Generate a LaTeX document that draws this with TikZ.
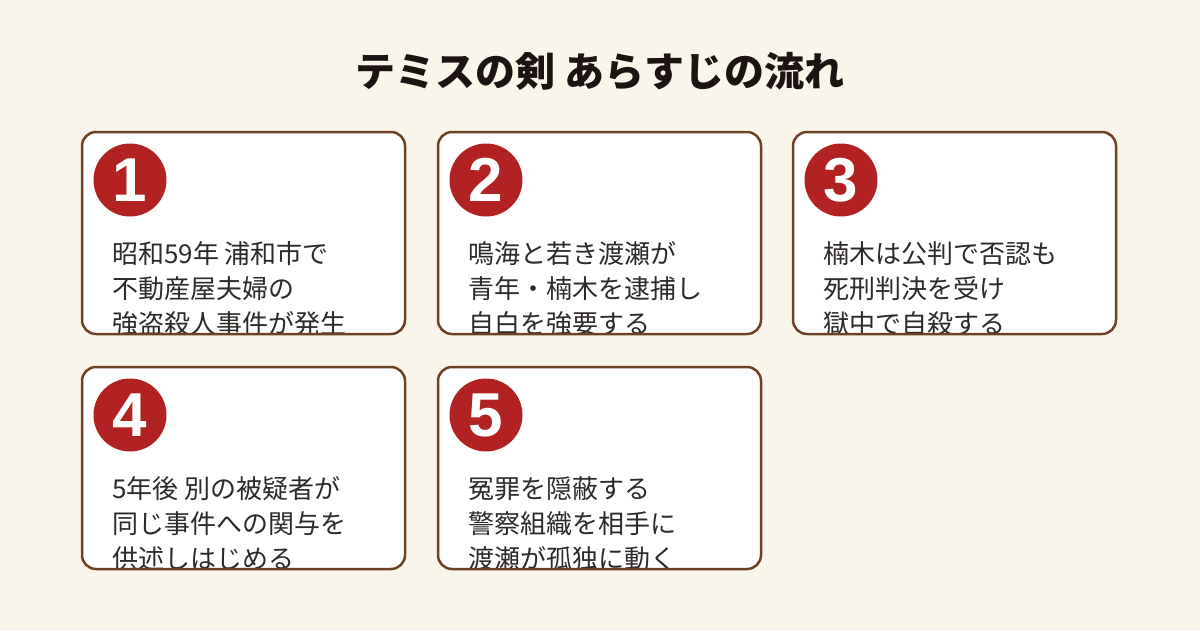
\documentclass[tikz,border=0pt]{standalone}
\usepackage{fontspec}
\newfontfamily\jp{Noto Sans CJK JP}
\newfontfamily\numfont{Liberation Sans}
\definecolor{bgc}{HTML}{FAF5EA}
\definecolor{brd}{HTML}{6B4226}
\definecolor{redc}{HTML}{B22222}
\definecolor{txt}{HTML}{2E2A28}
\definecolor{ttl}{HTML}{1C1412}
\tikzset{
  cardborder/.style={draw=brd, line width=2.5pt, rounded corners=14pt},
  numcirc/.style={circle, fill=redc, minimum size=73pt, inner sep=0pt, text=white, font=\numfont\bfseries\fontsize{62}{62}\selectfont},
  bodyline/.style={anchor=base west, inner sep=0pt, text=txt, font=\jp\fontsize{26}{26}\selectfont},
  titletext/.style={text=ttl, inner sep=0pt, font=\jp\bfseries\fontsize{40}{40}\selectfont}
}
\newcommand\cardbox[7]{%
  \begin{scope}
    \path[clip, rounded corners=14pt] (#2,#3) rectangle ++(323,202);
    \fill[white] (#2,#3) rectangle ++(323,202);
    \node[numcirc] (#1n) at (#2+48,#3+48) {#4};
    \node[bodyline] (#1a) at (#2+30,#3+131) {#5};
    \node[bodyline] (#1b) at (#2+30,#3+166) {#6};
    \node[bodyline] (#1c) at (#2+30,#3+201) {#7};
  \end{scope}
  \path[cardborder] (#2,#3) rectangle ++(323,202);
}
\begin{document}
\begin{tikzpicture}[x=1pt,y=-1pt]
  \fill[bgc] (0,0) rectangle (1200,630);
  \useasboundingbox (0,0) rectangle (1200,630);
  \node[titletext] (title) at (600,71) {テミスの剣 あらすじの流れ};
  \cardbox{k1}{82}{132}{1}{昭和59年 浦和市で}{不動産屋夫婦の}{強盗殺人事件が発生}
  \cardbox{k2}{438}{132}{2}{鳴海と若き渡瀬が}{青年・楠木を逮捕し}{自白を強要する}
  \cardbox{k3}{793}{132}{3}{楠木は公判で否認も}{死刑判決を受け}{獄中で自殺する}
  \cardbox{k4}{82}{367}{4}{5年後 別の被疑者が}{同じ事件への関与を}{供述しはじめる}
  \cardbox{k5}{438}{367}{5}{冤罪を隠蔽する}{警察組織を相手に}{渡瀬が孤独に動く}
\end{tikzpicture}
\end{document}
